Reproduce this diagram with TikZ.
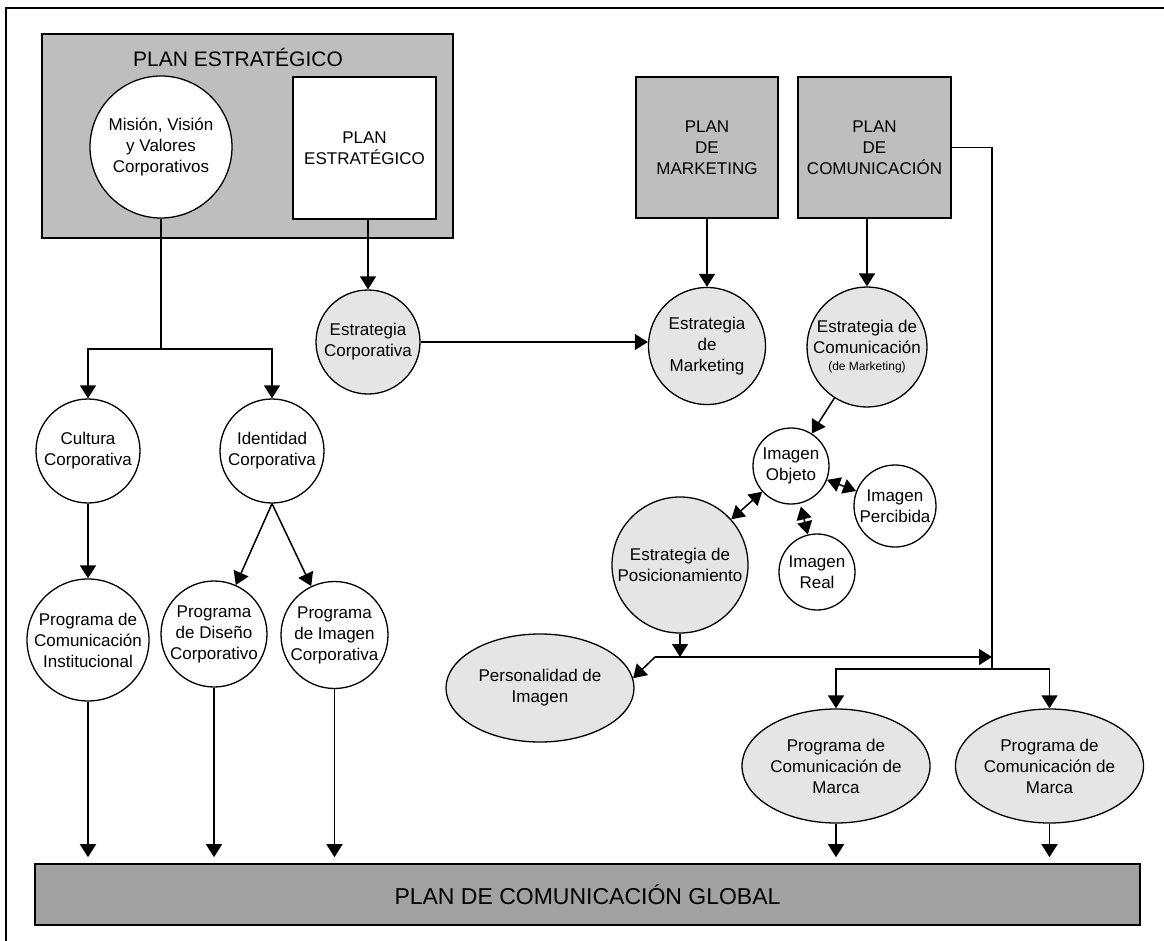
\documentclass[tikz,border=0pt]{standalone}
\usepackage{fontspec}
\setmainfont{Liberation Sans}
\usetikzlibrary{arrows.meta,shapes.geometric,calc}

\definecolor{boxgray}{gray}{0.745}
\definecolor{lightfill}{gray}{0.90}
\definecolor{darkfill}{gray}{0.63}

\tikzset{
  base/.style={align=center, inner sep=0pt, line width=1.3pt, draw=black,
               font=\fontsize{17}{21}\selectfont},
  wcirc/.style={base, circle, fill=white},
  lcirc/.style={base, circle, fill=lightfill},
  lell/.style={base, ellipse, fill=lightfill},
  gbox/.style={base, rectangle, fill=boxgray, line width=1.6pt},
  wbox/.style={base, rectangle, fill=white, line width=1.6pt},
  dbox/.style={base, rectangle, fill=darkfill, line width=1.6pt},
  link/.style={line width=1.5pt},
  arr/.style={link, -{Triangle[length=13pt,width=16pt]}},
  dbl/.style={link, {Triangle[length=13pt,width=15pt]}-{Triangle[length=13pt,width=15pt]}},
}

\begin{document}
\begin{tikzpicture}[x=1pt, y=-1pt]
\useasboundingbox (0,0) rectangle (1164,941);

% outer frame
\draw[line width=1.3pt] (6,941) -- (6,8) -- (1164,8);

% strategic plan block
\node[gbox, minimum width=411pt, minimum height=204pt] (pe) at (247.5,136) {};
\node[font=\fontsize{21}{25}\selectfont, inner sep=0pt] (petitle) at (238,58) {PLAN ESTRATÉGICO};
\node[wcirc, minimum size=142pt] (mision) at (161,147) {Misión, Visión\\y Valores\\Corporativos};
\node[wbox, minimum width=143pt, minimum height=142pt] (pei) at (364.5,148) {PLAN\\ESTRATÉGICO};

% marketing and communication plans
\node[gbox, minimum width=142pt, minimum height=141pt] (pmk) at (707,147.5) {PLAN\\DE\\MARKETING};
\node[gbox, minimum width=153pt, minimum height=141pt] (pcom) at (874.5,147.5) {PLAN\\DE\\COMUNICACIÓN};

% strategies
\node[lcirc, minimum size=104pt] (ecorp) at (368,342) {Estrategia\\Corporativa};
\node[lcirc, minimum size=117pt] (emk) at (707,346) {Estrategia\\de\\Marketing};
\node[lcirc, minimum size=117pt] (ecom) at (867,347) {Estrategia de\\Comunicación\\[-4pt]{\fontsize{12}{14}\selectfont (de Marketing)}};

% corporate branch
\node[wcirc, minimum size=104pt] (cult) at (88,451) {Cultura\\Corporativa};
\node[wcirc, minimum size=104pt] (ident) at (272,451) {Identidad\\Corporativa};
\node[wcirc, minimum size=122pt] (pinst) at (88,640) {Programa de\\Comunicación\\Institucional};
\node[wcirc, minimum size=106pt] (pdis) at (214,634) {Programa\\de Diseño\\Corporativo};
\node[wcirc, minimum size=107pt] (pimg) at (334.5,635) {Programa\\de Imagen\\Corporativa};

% image cluster
\node[wcirc, minimum size=76pt] (iobj) at (791,466) {Imagen\\Objeto};
\node[wcirc, minimum size=82pt] (iper) at (895,506) {Imagen\\Percibida};
\node[wcirc, minimum size=76pt] (ireal) at (817,572) {Imagen\\Real};
\node[lcirc, minimum size=136pt] (epos) at (680,565) {Estrategia de\\Posicionamiento};
\node[lell, minimum width=188pt, minimum height=108pt] (pers) at (540,688) {Personalidad de\\Imagen};

% brand programmes
\node[lell, minimum width=188pt, minimum height=114pt] (pm1) at (836,766) {Programa de\\Comunicación de\\Marca};
\node[lell, minimum width=188pt, minimum height=114pt] (pm2) at (1049.5,766) {Programa de\\Comunicación de\\Marca};

% global plan
\node[dbox, minimum width=1105pt, minimum height=61pt, font=\fontsize{23}{27}\selectfont] (global) at (587.5,894.5) {PLAN DE COMUNICACIÓN GLOBAL};

% helper points
\coordinate (split) at (161,349);
\coordinate (rt) at (992,147.5);
\coordinate (rb) at (992,669);
\coordinate (pj) at (680,657);
\coordinate (pl) at (655,657);
\coordinate (pr) at (992,657);

% connectors
\draw[link] (mision) -- (split);
\draw[arr] (split) -| (cult);
\draw[arr] (split) -| (ident);
\draw[arr] (cult) -- (pinst);
\draw[arr] (ident.south) -- (pdis);
\draw[arr] (ident.south) -- (pimg);

\draw[arr] (ecorp |- pei.south) -- (ecorp);
\draw[arr] (ecorp.east) -- (emk.west |- ecorp.east);
\draw[arr] (pmk) -- (emk);
\draw[arr] (ecom |- pcom.south) -- (ecom);

\draw[link] (pcom.east) -- (rt) -- (rb);
\draw[arr] (rb) -| (pm1);
\draw[arr] (rb) -| (pm2);

\draw[arr] (ecom) -- (iobj);
\draw[dbl] (iobj) -- (iper);
\draw[dbl, shorten <=3pt] (iobj) -- (ireal);
\draw[dbl] (iobj) -- (epos);

\draw[arr] (epos) -- (pj);
\draw[arr] (pl) -- (pr);
\draw[arr] (pl) -- (pers.6);

\draw[arr, shorten >=6pt] (pinst) -- (pinst |- global.north);
\draw[arr, shorten >=6pt] (pdis) -- (pdis |- global.north);
\draw[arr, shorten >=6pt] (pimg) -- (pimg |- global.north);
\draw[arr, shorten >=6pt] (pm1) -- (pm1 |- global.north);
\draw[arr, shorten >=6pt] (pm2) -- (pm2 |- global.north);
\end{tikzpicture}
\end{document}
